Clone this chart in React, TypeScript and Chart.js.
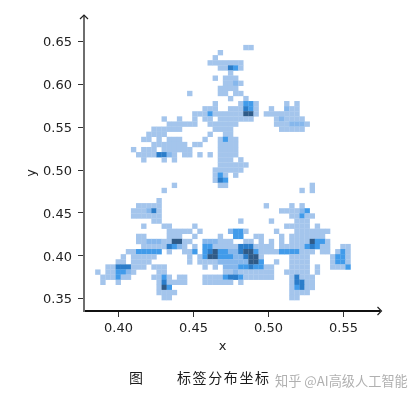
import React, { useEffect, useRef } from "react";
import { Chart, registerables } from "chart.js";

Chart.register(...registerables);

// Histogram bins
const binCountX = 50;
const xBinStart = 0.38453;
const xBinWidth = 0.003405;
const yBinTop = 0.6459;
const yBinHeight = 0.005958;
const xTicks = [0.4, 0.45, 0.5, 0.55];
const yTicks = [0.35, 0.4, 0.45, 0.5, 0.55, 0.6, 0.65];

// one entry per row from the top: "startColumn:levels", level = count band of the cell
const binRows: string[] = [
  "29:11",
  "24:1",
  "23:1",
  "22:1111111",
  "24:11431",
  "26:1",
  "23:1 25:111",
  "25:1121",
  "24:1111",
  "18:1 24:11 27:11",
  "26:1 29:1",
  "23:1 28:1331 37:1 39:1",
  "21:111 26:111431 34:1 37:211",
  "19:1113111111551 33:1111111",
  "13:1 16:1 19:1 21:11 24:1111111 35:121111",
  "14:11111 19:1 22:11 24:1111 35:1112221",
  "11:111 14:111 23:111 26:1 36:11111",
  "10:1111 22:1 25:11",
  "9:11 12:1 14:111 21:1 24:1311",
  "11:11 13:11111 19:11 24:1111",
  "7:1 9:111 13:111 16:111 24:1111",
  "8:1111 12:4421 17:11 20:1 22:1 24:1111",
  "9:1 13:1 15:1 24:111 28:1",
  "24:111111",
  "23:111111",
  "23:131 27:1",
  "23:143",
  "15:1 24:11 42:1",
  "13:1 40:1 42:1",
  "",
  "12:1",
  "8:11111 33:1 38:1 40:1",
  "7:111241 36:1111 40:23",
  "7:111111 38:11311",
  "11:11 28:1 34:1 39:111",
  "9:1 13:11 19:1 37:11111 43:1",
  "14:11111 20:1 26:2331 35:1 39:1111111",
  "8:11 14:111 19:1 24:1 27:33 31:11 36:1 38:1111111",
  "8:1122211 15:55 17:11 21:222 24:111 29:11 32:1 34:1 36:1 38:1111 42:5331",
  "9:11111 14:4321 19:1 21:331 24:1111 28:444 31:1111 36:11111 41:34311 48:11",
  "6:11 8:33333 14:1 17:11 19:3 21:345 24:3322 28:4553 32:1111 36:3333 40:111 44:11 47:131",
  "5:1 7:11111 18:1 20:1 21:355 24:33322 29:455 32:1 38:1111 46:1331",
  "4:11 7:1111 18:1 20:1 21:111 24:222 27:222 30:55 32:3 35:1 38:1111 46:1331",
  "2:11 4:444 7:111 11:111 21:1 23:1 25:222 28:33 30:433 33:11 38:1111 43:1 46:1113",
  "0:1 2:113321 12:11 25:1121 29:1111 33:11 37:11111 43:1",
  "1:1 2:11 4:3 5:11 11:1131 16:11 21:1111 25:3 26:44 28:3 29:111111 38:1 39:41 41:11",
  "1:1 4:1 12:141 15:111 21:111111 28:1 38:1 39:44 41:11",
  "12:153 38:1 39:34 41:11",
  "12:1111 38:1111",
  "13:11 38:11",
];

const levelColors = ["#a4c5ec", "#86b7ec", "#419bea", "#2b7dca", "#2f5b88"];

const xLabel = "x";
const yLabel = "y";
const caption = ["图", "标签分布坐标"];
const watermark = "知乎 @AI高级人工智能";

const cells: { x: number; y: number; level: number }[] = [];
binRows.forEach((row, r) => {
  row.split(" ").filter(Boolean).forEach((seg) => {
    const [start, levels] = seg.split(":");
    [...levels].forEach((l, i) => {
      const c = Number(start) + i;
      if (c < binCountX) {
        cells.push({
          x: xBinStart + (c + 0.5) * xBinWidth,
          y: yBinTop - (r + 0.5) * yBinHeight,
          level: Number(l),
        });
      }
    });
  });
});

const extras = {
  id: "extras",
  afterDraw(chart: any) {
    const { ctx, chartArea: a } = chart;
    const tipTop = 15;
    const tipRight = 381.5;
    const spineX = a.left;
    const spineY = a.bottom;
    ctx.save();
    ctx.lineWidth = 2;
    ctx.strokeStyle = "#6e6e6e";
    ctx.beginPath();
    ctx.moveTo(spineX, a.top + 1);
    ctx.lineTo(spineX, tipTop + 1);
    ctx.stroke();
    ctx.strokeStyle = "#111";
    ctx.beginPath();
    ctx.moveTo(a.right - 1, spineY);
    ctx.lineTo(tipRight - 1, spineY);
    ctx.stroke();
    ctx.lineWidth = 1.2;
    ctx.strokeStyle = "#222";
    ctx.beginPath();
    ctx.moveTo(spineX - 4, tipTop + 4);
    ctx.lineTo(spineX, tipTop);
    ctx.lineTo(spineX + 4, tipTop + 4);
    ctx.moveTo(tipRight - 4, spineY - 4);
    ctx.lineTo(tipRight, spineY);
    ctx.lineTo(tipRight - 4, spineY + 4);
    ctx.stroke();

    ctx.textBaseline = "middle";
    ctx.textAlign = "left";
    ctx.fillStyle = "#1a1a1a";
    ctx.font = '14px "Noto Sans CJK SC"';
    ctx.fillText(caption[0], 129, 378);
    (ctx as any).letterSpacing = "1.6px";
    ctx.fillText(caption[1], 177, 378);
    (ctx as any).letterSpacing = "0px";
    ctx.fillStyle = "rgba(150,150,150,0.75)";
    ctx.font = '13.2px "Noto Sans CJK SC"';
    ctx.fillText(watermark, 275, 381);
    ctx.restore();
  },
};

// tick labels of the reference sit a little below their tick marks
const nudgeLabels = (dy: number) => (s: any) => {
  const original = s.getLabelItems.bind(s);
  s.getLabelItems = (area: any) => {
    const items = original(area);
    if (!items.__nudged) {
      items.forEach((it: any) => { it.textOffset += dy; });
      items.__nudged = true;
    }
    return items;
  };
};

export default function App() {
  const ref = useRef<HTMLCanvasElement>(null);
  useEffect(() => {
    const chart = new Chart(ref.current as HTMLCanvasElement, {
      type: "scatter",
      data: {
        datasets: [
          {
            data: cells,
            parsing: false,
            pointStyle: "rect",
            pointRadius: 3.8,
            pointBorderWidth: 0,
            borderWidth: 0,
            backgroundColor: cells.map((c) => levelColors[c.level - 1]),
          } as any,
        ],
      },
      plugins: [extras],
      options: {
        animation: false,
        responsive: false,
        layout: { padding: { top: 35, right: 59, left: 0, bottom: 0 } },
        plugins: { legend: { display: false }, tooltip: { enabled: false } },
        scales: {
          x: {
            type: "linear",
            min: 0.377,
            max: 0.5617,
            afterFit: (s: any) => { s.height = 89; },
            afterBuildTicks: (s: any) => { s.ticks = xTicks.map((value) => ({ value })); },
            grid: { drawOnChartArea: false, tickLength: 6, color: "#333" },
            border: { color: "#111", width: 2 },
            ticks: {
              maxRotation: 0,
              padding: 4,
              color: "#222",
              font: { family: "DejaVu Sans", size: 13 },
              callback: (v: any) => Number(v).toFixed(2),
            },
            title: {
              display: true,
              text: xLabel,
              color: "#222",
              font: { family: "DejaVu Sans", size: 13 },
              padding: { top: 0, bottom: 46 },
            },
          },
          y: {
            type: "linear",
            min: 0.3354,
            max: 0.6576,
            afterFit: (s: any) => { s.width = 84; },
            afterBuildTicks: (s: any) => { s.ticks = yTicks.map((value) => ({ value })); },
            afterUpdate: nudgeLabels(1.5),
            grid: { drawOnChartArea: false, tickLength: 6, color: "#333" },
            border: { color: "#6e6e6e", width: 2 },
            ticks: {
              padding: 6,
              color: "#222",
              font: { family: "DejaVu Sans", size: 13 },
              callback: (v: any) => Number(v).toFixed(2),
            },
            title: {
              display: true,
              text: yLabel,
              color: "#222",
              font: { family: "DejaVu Sans", size: 13 },
              padding: { top: 24, bottom: 0 },
            },
          },
        },
      },
    } as any);
    return () => chart.destroy();
  }, []);
  return (
    <canvas
      ref={ref}
      width={420}
      height={400}
      style={{ position: "absolute", left: 0, top: 0, width: 420, height: 400 }}
    />
  );
}
